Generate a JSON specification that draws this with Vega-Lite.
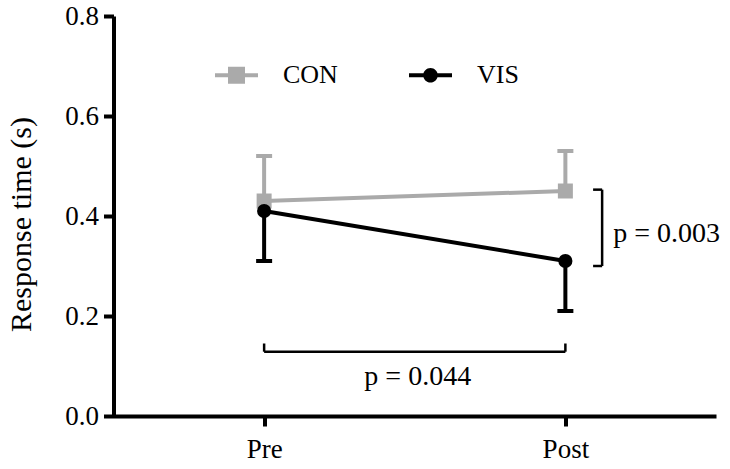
{
  "$schema": "https://vega.github.io/schema/vega-lite/v6.json",
  "width": 602.5,
  "height": 400,
  "autosize": {"type": "none"},
  "padding": {"left": 113.5, "top": 16, "right": 14, "bottom": 53},
  "background": "white",
  "config": {
    "view": {"stroke": null},
    "font": "Liberation Serif",
    "axis": {
      "grid": false,
      "domainColor": "black",
      "domainWidth": 4,
      "tickColor": "black",
      "tickWidth": 4,
      "tickSize": 10,
      "labelFont": "Liberation Serif",
      "labelFontSize": 27,
      "labelColor": "black",
      "titleFont": "Liberation Serif",
      "titleFontWeight": "normal",
      "titleColor": "black"
    }
  },
  "datasets": {
    "means": [
      {"phase": "Pre", "t": 1, "group": "CON", "mean": 0.43, "bar_end": 0.52},
      {"phase": "Post", "t": 2, "group": "CON", "mean": 0.45, "bar_end": 0.53},
      {"phase": "Pre", "t": 1, "group": "VIS", "mean": 0.41, "bar_end": 0.31},
      {"phase": "Post", "t": 2, "group": "VIS", "mean": 0.31, "bar_end": 0.21}
    ]
  },
  "layer": [
    {
      "data": {"name": "means"},
      "mark": {"type": "rule", "strokeWidth": 4},
      "encoding": {
        "x": {"field": "t", "type": "quantitative", "scale": {"domain": [0.5, 2.5], "nice": false, "zero": false},
          "axis": {"values": [1, 2], "title": null, "labelExpr": "datum.value == 1 ? 'Pre' : 'Post'", "labelPadding": 10, "labelFlush": false}},
        "y": {"field": "mean", "type": "quantitative", "scale": {"domain": [0, 0.8], "nice": false},
          "axis": {"values": [0, 0.2, 0.4, 0.6, 0.8], "format": ".1f", "labelPadding": 5, "title": "Response time (s)", "titleFontSize": 30, "titleAngle": -90, "titleX": -92, "titleY": 208, "titleAlign": "center", "titleBaseline": "middle", "labelFlush": false}},
        "y2": {"field": "bar_end"},
        "color": {"condition": {"test": "datum.group === 'CON'", "value": "#aaaaaa"}, "value": "#000000"}
      }
    },
    {
      "data": {"name": "means"},
      "mark": {"type": "tick", "orient": "horizontal", "size": 16, "thickness": 4, "opacity": 1},
      "encoding": {
        "x": {"field": "t", "type": "quantitative"},
        "y": {"field": "bar_end", "type": "quantitative"},
        "color": {"condition": {"test": "datum.group === 'CON'", "value": "#aaaaaa"}, "value": "#000000"}
      }
    },
    {
      "data": {"name": "means"},
      "mark": {"type": "line", "strokeWidth": 4},
      "encoding": {
        "x": {"field": "t", "type": "quantitative"},
        "y": {"field": "mean", "type": "quantitative"},
        "detail": {"field": "group"},
        "color": {"condition": {"test": "datum.group === 'CON'", "value": "#aaaaaa"}, "value": "#000000"}
      }
    },
    {
      "data": {"name": "means"},
      "transform": [{"filter": "datum.group === 'CON'"}],
      "mark": {"type": "square", "filled": true, "opacity": 1, "size": 225, "color": "#aaaaaa"},
      "encoding": {
        "x": {"field": "t", "type": "quantitative"},
        "y": {"field": "mean", "type": "quantitative"}
      }
    },
    {
      "data": {"name": "means"},
      "transform": [{"filter": "datum.group === 'VIS'"}],
      "mark": {"type": "circle", "filled": true, "opacity": 1, "size": 200, "color": "#000000"},
      "encoding": {
        "x": {"field": "t", "type": "quantitative"},
        "y": {"field": "mean", "type": "quantitative"}
      }
    },
    {
      "data": {"name": "means"},
      "transform": [{"filter": "datum.t > 5"}],
      "mark": {"type": "point", "filled": true, "opacity": 1, "size": 1849, "strokeWidth": 0},
      "encoding": {
        "x": {"field": "t", "type": "quantitative"},
        "y": {"field": "mean", "type": "quantitative"},
        "color": {"field": "group", "type": "nominal", "scale": {"domain": ["CON", "VIS"], "range": ["#aaaaaa", "#000000"]},
          "legend": {"title": null, "orient": "none", "direction": "horizontal", "legendX": 100.5, "legendY": 36.5,
            "symbolSize": 1849, "labelFontSize": 26, "labelFont": "Liberation Serif", "labelColor": "black", "labelOffset": 24, "columnPadding": 70}},
        "shape": {"field": "group", "type": "nominal",
          "scale": {"domain": ["CON", "VIS"], "range": ["M-1,-0.093H1V0.093H-1Z M-0.395,-0.395H0.395V0.395H-0.395Z", "M-1,-0.093H1V0.093H-1Z M0.34,0A0.34,0.34,0,1,1,-0.34,0A0.34,0.34,0,1,1,0.34,0Z"]},
          "legend": {"title": null, "orient": "none", "direction": "horizontal", "legendX": 100.5, "legendY": 36.5,
            "symbolSize": 1849, "labelFontSize": 26, "labelFont": "Liberation Serif", "labelColor": "black", "labelOffset": 24, "columnPadding": 70}}
      }
    },
    {
      "data": {"values": [
        {"x": 2.122, "x2": 2.122, "y": 0.30, "y2": 0.4527},
        {"x": 2.092, "x2": 2.122, "y": 0.4527, "y2": 0.4527},
        {"x": 2.092, "x2": 2.122, "y": 0.30, "y2": 0.30},
        {"x": 1, "x2": 2, "y": 0.1286, "y2": 0.1286},
        {"x": 1, "x2": 1, "y": 0.1286, "y2": 0.145},
        {"x": 2, "x2": 2, "y": 0.1286, "y2": 0.145}
      ]},
      "mark": {"type": "rule", "strokeWidth": 2.5, "color": "black"},
      "encoding": {
        "x": {"field": "x", "type": "quantitative"},
        "x2": {"field": "x2"},
        "y": {"field": "y", "type": "quantitative"},
        "y2": {"field": "y2"}
      }
    },
    {
      "data": {"values": [
        {"x": 1.51, "y": 0.062, "label": "p = 0.044"}
      ]},
      "mark": {"type": "text", "fontSize": 28, "font": "Liberation Serif", "color": "black", "baseline": "alphabetic", "align": "center"},
      "encoding": {
        "x": {"field": "x", "type": "quantitative"},
        "y": {"field": "y", "type": "quantitative"},
        "text": {"field": "label"}
      }
    },
    {
      "data": {"values": [
        {"x": 2.159, "y": 0.3486, "label": "p = 0.003"}
      ]},
      "mark": {"type": "text", "fontSize": 28, "font": "Liberation Serif", "color": "black", "baseline": "alphabetic", "align": "left"},
      "encoding": {
        "x": {"field": "x", "type": "quantitative"},
        "y": {"field": "y", "type": "quantitative"},
        "text": {"field": "label"}
      }
    }
  ]
}
